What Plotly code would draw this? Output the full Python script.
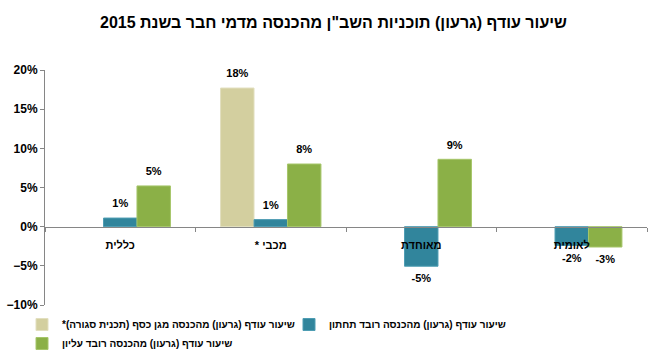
import plotly.graph_objects as go

RLE, PDF = "\u202b", "\u202c"

title_text = "שיעור עודף (גרעון) תוכניות השב\"ן מהכנסה מדמי חבר בשנת 2015"
categories = ["כללית", "מכבי *", "מאוחדת", "לאומית"]
series_names = [
    "שיעור עודף (גרעון) מהכנסה מגן כסף (תכנית סגורה)*",
    "שיעור עודף (גרעון) מהכנסה רובד תחתון",
    "שיעור עודף (גרעון) מהכנסה רובד עליון",
]
gold_values = [None, 17.7, None, None]
lower_values = [1.1, 0.9, -5.05, -2.4]
upper_values = [5.2, 8.0, 8.6, -2.6]
y_range = [-10, 20]
y_tick_step = 5
label_gap = 1.7  # label distance from bar end, in axis units

colors = ["#D3CF9F", "#31859C", "#8BB047"]
line_colors = ["#E2DFBF", "#4E9DB3", "#A6C66A"]

FONT = "Liberation Sans, Arial, DejaVu Sans, sans-serif"

def rtl(s):
    return RLE + s + PDF

cats = [rtl(c) for c in categories]

fig = go.Figure()
all_values = [gold_values, lower_values, upper_values]
for i, (name, vals, col, lc) in enumerate(zip(series_names, all_values, colors, line_colors)):
    fig.add_trace(go.Bar(
        x=cats, y=vals, name="<b>" + rtl(name) + "</b>",
        marker=dict(color=col, line=dict(color=lc, width=1)),
        offsetgroup=str(i), alignmentgroup="g",
        hoverinfo="skip",
    ))
for i, vals in enumerate(all_values):
    ys = [None if v is None else (v + label_gap if v >= 0 else v - label_gap) for v in vals]
    txt = ["" if v is None else "<b>%.0f%%</b>" % v for v in vals]
    fig.add_trace(go.Scatter(
        x=cats, y=ys, mode="text", text=txt, textposition="middle center",
        textfont=dict(family=FONT, size=11, color="black"),
        offsetgroup=str(i), alignmentgroup="g",
        showlegend=False, cliponaxis=False, hoverinfo="skip",
    ))

zero_pos = (0 - y_range[0]) / (y_range[1] - y_range[0])

fig.update_layout(
    width=667, height=362,
    paper_bgcolor="white", plot_bgcolor="white",
    margin=dict(l=45, r=20, t=70, b=57, autoexpand=False),
    barmode="group", scattermode="group", bargap=0.333, bargroupgap=0,
    font=dict(family=FONT, size=11, color="black"),
    title=dict(text="<b>" + rtl(title_text) + "</b>", x=0.5, xref="container",
               y=1 - 22 / 362, yanchor="middle", xanchor="center",
               font=dict(family=FONT, size=16, color="black")),
    showlegend=True,
    legend=dict(orientation="h", xref="container", x=22 / 667, xanchor="left",
                yref="container", y=1 - 310 / 362, yanchor="top",
                font=dict(family=FONT, size=10, color="black"),
                entrywidth=222, entrywidthmode="pixels",
                traceorder="normal", itemwidth=30, tracegroupgap=0),
    xaxis=dict(anchor="free", position=zero_pos, showline=True, linecolor="#868686",
               linewidth=1, ticks="outside", tickson="boundaries", ticklen=4,
               tickcolor="#868686", showgrid=False, zeroline=False, automargin=False,
               ticklabelstandoff=8,
               tickprefix="<b>", ticksuffix="</b>",
               tickfont=dict(family=FONT, size=11, color="black")),
    yaxis=dict(range=y_range, dtick=y_tick_step, tickprefix="<b>", ticksuffix="%</b>",
               showline=True, automargin=False,
               linecolor="#868686", ticks="outside", ticklen=4, tickcolor="#868686",
               showgrid=False, zeroline=False,
               tickfont=dict(family=FONT, size=12, color="black")),
)

fig.write_html("out.html", config={"displayModeBar": False},
               post_script="document.body.style.margin='0';")
